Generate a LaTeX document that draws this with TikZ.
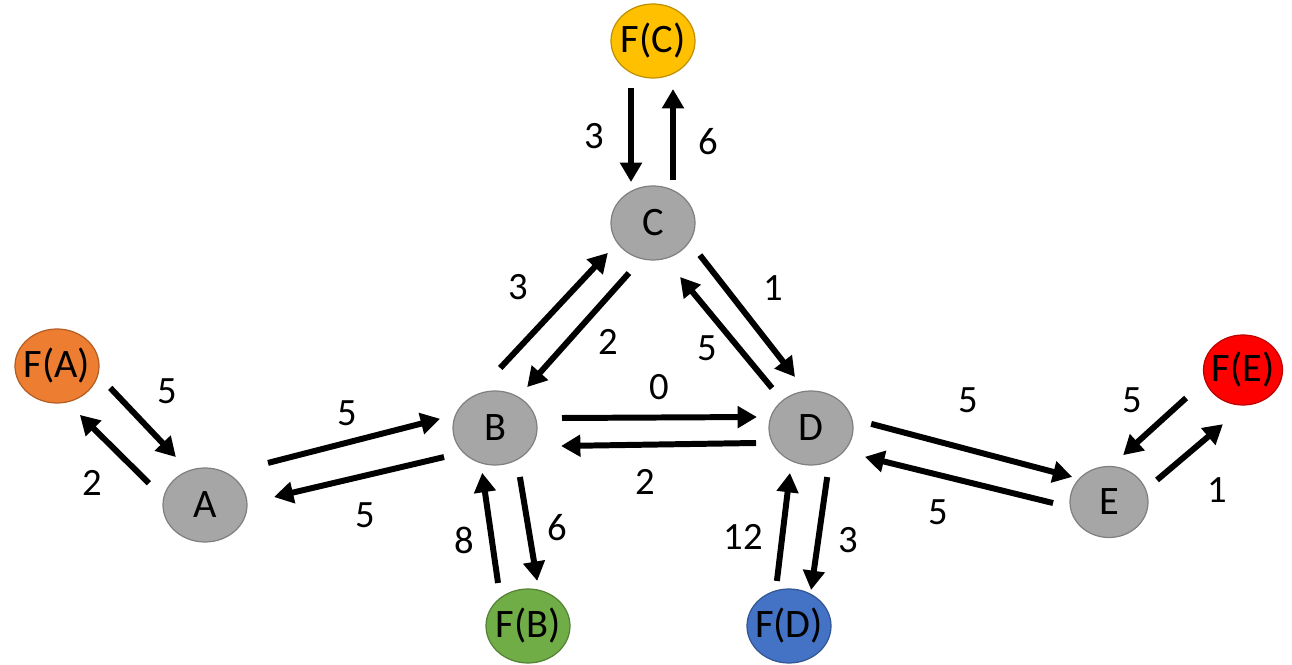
\documentclass[tikz,border=0pt]{standalone}
\usepackage{fontspec}
\setmainfont{Carlito}
\usetikzlibrary{shapes.geometric,arrows.meta,calc}

\definecolor{stategray}{HTML}{A6A6A6}
\definecolor{stateline}{HTML}{808080}
\definecolor{fa}{HTML}{ED7D31}
\definecolor{fb}{HTML}{70AD47}
\definecolor{fc}{HTML}{FFC000}
\definecolor{fd}{HTML}{4472C4}
\definecolor{fe}{HTML}{FF0000}

\tikzset{
  state/.style={ellipse, draw=stateline, fill=stategray, line width=0.7pt,
    minimum width=1.68cm, minimum height=1.48cm, inner sep=0pt,
    font=\fontsize{23}{27}\selectfont},
  final/.style={state, fill=#1, draw=#1!75!black},
  flow/.style={line width=3.4pt, -{Triangle[length=11pt,width=12pt]}},
  wt/.style={inner sep=0pt, font=\fontsize{22}{26}\selectfont}
}

\begin{document}
\begin{tikzpicture}
\useasboundingbox (0,0) rectangle (25.84,13.28);

% states
\node[state] (A) at (4.10,3.18) {A};
\node[state] (B) at (9.90,4.72) {B};
\node[state] (C) at (13.06,8.82) {C};
\node[state] (D) at (16.22,4.72) {D};
\node[state, minimum width=1.56cm, minimum height=1.42cm] (E) at (22.18,3.24) {E};

% final nodes
\node[final=fa] (FA) at (1.14,5.96) {\makebox[0pt]{F(A)}};
\node[final=fb] (FB) at (10.56,0.76) {\makebox[0pt]{F(B)}};
\node[final=fc] (FC) at (13.06,12.46) {\makebox[0pt]{F(C)}};
\node[final=fd] (FD) at (15.78,0.76) {\makebox[0pt]{F(D)}};
\node[final=fe, minimum width=1.58cm, minimum height=1.40cm] (FE) at (24.86,5.88) {\makebox[0pt]{F(E)}};

% flows
\draw[flow] ($(FC)!.258!(C)!-.44cm!90:(C)$) -- ($(FC)!.775!(C)!-.44cm!90:(C)$);
\draw[flow] ($(C)!.236!(FC)!-.40cm!90:(FC)$) -- ($(C)!.736!(FC)!-.40cm!90:(FC)$);
\draw[flow] ($(FA)!.265!(A)!.41cm!90:(A)$) -- ($(FA)!.734!(A)!.30cm!90:(A)$);
\draw[flow] ($(A)!.275!(FA)!.45cm!90:(FA)$) -- ($(A)!.753!(FA)!.40cm!90:(FA)$);
\draw[flow] ($(A)!.239!(B)!.49cm!90:(B)$) -- ($(A)!.831!(B)!.46cm!90:(B)$);
\draw[flow] ($(B)!.189!(A)!.30cm!90:(A)$) -- ($(B)!.771!(A)!.20cm!90:(A)$);
\draw[flow] ($(B)!.196!(C)!.65cm!90:(C)$) -- ($(B)!.802!(C)!.35cm!90:(C)$);
\draw[flow] ($(C)!.210!(B)!.23cm!90:(B)$) -- ($(C)!.799!(B)!.01cm!90:(B)$);
\draw[flow] ($(C)!.209!(D)!.35cm!90:(D)$) -- ($(C)!.806!(D)!.37cm!90:(D)$);
\draw[flow] ($(D)!.214!(C)!.13cm!90:(C)$) -- ($(D)!.771!(C)!.23cm!90:(C)$);
\draw[flow] ($(B)!.212!(D)!.20cm!90:(D)$) -- ($(B)!.829!(D)!.22cm!90:(D)$);
\draw[flow] ($(D)!.174!(B)!.30cm!90:(B)$) -- ($(D)!.791!(B)!.36cm!90:(B)$);
\draw[flow] ($(B)!.261!(FB)!.33cm!90:(FB)$) -- ($(B)!.786!(FB)!.33cm!90:(FB)$);
\draw[flow] ($(FB)!.236!(B)!.45cm!90:(B)$) -- ($(FB)!.790!(B)!.40cm!90:(B)$);
\draw[flow] ($(D)!.236!(FD)!.43cm!90:(FD)$) -- ($(D)!.808!(FD)!.36cm!90:(FD)$);
\draw[flow] ($(FD)!.218!(D)!.34cm!90:(D)$) -- ($(FD)!.764!(D)!.32cm!90:(D)$);
\draw[flow] ($(D)!.187!(E)!.37cm!90:(E)$) -- ($(D)!.864!(E)!.31cm!90:(E)$);
\draw[flow] ($(E)!.176!(D)!.29cm!90:(D)$) -- ($(E)!.807!(D)!.30cm!90:(D)$);
\draw[flow] ($(FE)!.320!(E)!-.40cm!90:(E)$) -- ($(FE)!.772!(E)!-.47cm!90:(E)$);
\draw[flow] ($(E)!.264!(FE)!-.36cm!90:(FE)$) -- ($(E)!.722!(FE)!-.49cm!90:(FE)$);

% weights
\node[wt] (wFCC) at (11.88,10.56) {3};
\node[wt] (wCFC) at (14.16,10.44) {6};
\node[wt] (wFAA) at (3.34,5.46) {5};
\node[wt] (wAFA) at (1.84,3.62) {2};
\node[wt] (wAB) at (6.94,5.02) {5};
\node[wt] (wBA) at (7.30,2.98) {5};
\node[wt] (wBC) at (10.36,7.54) {3};
\node[wt] (wCB) at (12.16,6.44) {2};
\node[wt] (wCD) at (15.46,7.52) {1};
\node[wt] (wDC) at (14.14,6.32) {5};
\node[wt] (wBD) at (13.18,5.54) {0};
\node[wt] (wDB) at (12.90,3.64) {2};
\node[wt] (wBFB) at (11.14,2.72) {6};
\node[wt] (wFBB) at (9.28,2.48) {8};
\node[wt] (wDFD) at (16.96,2.48) {3};
\node[wt] (wFDD) at (14.86,2.54) {12};
\node[wt] (wDE) at (19.36,5.28) {5};
\node[wt] (wED) at (18.76,3.04) {5};
\node[wt] (wFEE) at (22.64,5.28) {5};
\node[wt] (wEFE) at (24.34,3.48) {1};
\end{tikzpicture}
\end{document}
